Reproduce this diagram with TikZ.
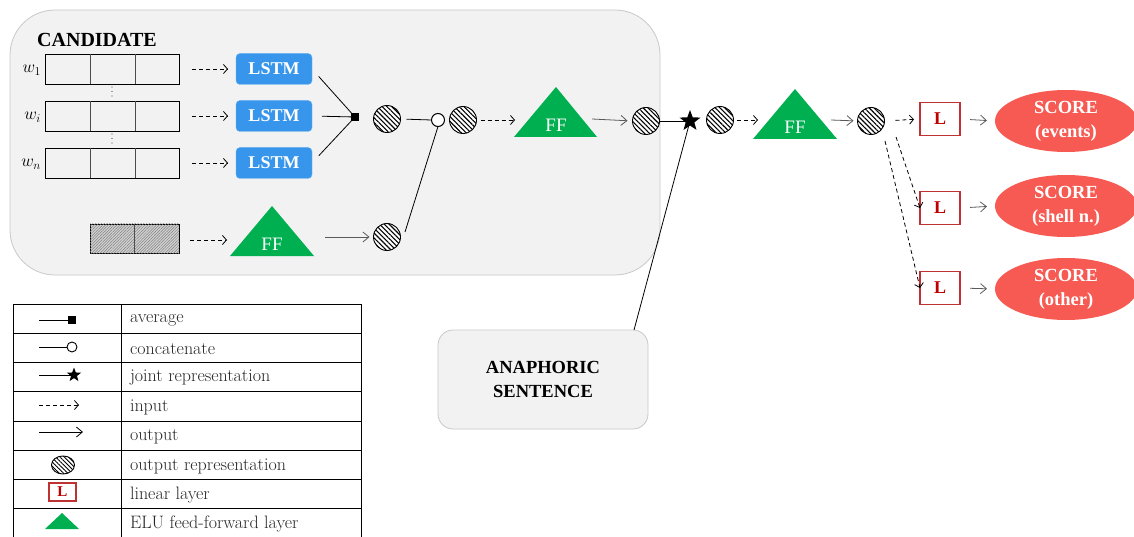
\documentclass[tikz,border=0pt]{standalone}
\usepackage{fontspec}
\setmainfont{Liberation Serif}
\newfontfamily\lmr{Latin Modern Roman}
\usetikzlibrary{arrows.meta,patterns.meta,shapes.geometric,calc}
\definecolor{bggray}{RGB}{242,242,242}
\definecolor{bgline}{RGB}{200,200,200}
\definecolor{lstmblue}{RGB}{55,150,235}
\definecolor{lstmline}{RGB}{100,175,240}
\definecolor{ffgreen}{RGB}{0,176,80}
\definecolor{lred}{RGB}{192,0,0}
\definecolor{lborder}{RGB}{190,50,50}
\definecolor{scorered}{RGB}{246,90,82}
\definecolor{outgray}{RGB}{90,90,90}
\begin{document}
\begin{tikzpicture}[x=1pt,y=-1pt,
  every node/.style={inner sep=0pt,outer sep=0pt},
  hatch/.style={circle,draw,line width=0.9pt,minimum size=27,fill=white,
    postaction={pattern={Lines[angle=-45,distance=3.4pt,line width=1.1pt]}}},
  wordbox/.style={draw,line width=0.8pt,minimum width=134,minimum height=30},
  lstm/.style={draw=lstmline,fill=lstmblue,rounded corners=4pt,minimum width=76,minimum height=31,
    text=white,font=\fontsize{18}{20}\selectfont\bfseries},
  fftext/.style={text=white,font=\fontsize{19}{21}\selectfont},
  lbox/.style={draw=lborder,line width=1.1pt,fill=white,minimum width=40,minimum height=33,
    text=lred,font=\fontsize{18}{20}\selectfont\bfseries},
  score/.style={ellipse,fill=scorered,minimum width=142,minimum height=62,text=white,align=center,
    font=\fontsize{18.5}{24}\selectfont\bfseries},
  avgsq/.style={fill=black,minimum size=8},
  conc/.style={circle,draw,line width=1pt,fill=white,minimum size=13},
  jstar/.style={star,star points=5,star point ratio=2.4,fill=black,minimum size=22},
  inarr/.style={line width=0.8pt,dash pattern=on 4pt off 3pt,-{Straight Barb[length=4pt,width=9pt]}},
  outarr/.style={draw=outgray,line width=0.8pt,-{Straight Barb[length=6pt,width=10pt]}},
  plain/.style={line width=0.8pt},
  legtext/.style={anchor=west,text=black!85,font=\lmr\fontsize{18}{20}\selectfont},
]
\useasboundingbox (0,0) rectangle (1134,537);

% candidate background
\draw[fill=bggray,draw=bgline,line width=0.8pt,rounded corners=45pt] (10,10) rectangle (660,275);
\node[font=\fontsize{20}{22}\selectfont\bfseries] (cand) at (97,40) {CANDIDATE};

% word rows
\foreach \k/\y/\lab in {1/69/{w_1},2/116/{w_i},3/163/{w_n}}{
  \node[wordbox] (w\k) at (112,\y) {};
  \draw[line width=0.7pt,draw=black!70] ($(w\k.north west)+(45,0)$) -- ($(w\k.south west)+(45,0)$);
  \draw[line width=0.7pt,draw=black!70] ($(w\k.north west)+(90,0)$) -- ($(w\k.south west)+(90,0)$);
  \node[anchor=east,font=\fontsize{18}{20}\selectfont] (wl\k) at ($(w\k.west)+(-4,1)$) {$\lab$};
  \node[lstm] (l\k) at (274,\y) {LSTM};
  \draw[inarr,shorten <=13pt,shorten >=8pt] (w\k.east) -- (l\k.west);
}
\foreach \y in {87,91.5,96,134,138.5,143}{\fill[black!70] (112,\y) circle (0.6pt);}

% average
\node[avgsq] (avg) at (355,117) {};
\foreach \k in {1,2,3}{\draw[plain,shorten <=10pt] (l\k.east) -- (avg);}

\node[hatch] (h1) at (387,119) {};
\node[conc] (cc) at (438,120) {};
\node[hatch] (h2) at (463,120) {};
\draw[plain,shorten <=6pt] (h1.east) -- (cc.west);

% FF1
\fill[ffgreen] (514,137) -- (556,87) -- (597,137) -- cycle;
\node[fftext] (ff1) at (556,125) {FF};
\coordinate (ff1in) at (515,120);
\coordinate (ff1out) at (592,119);
\draw[inarr,shorten <=4pt] (h2.east) -- (ff1in);
\node[hatch] (h3) at (646,121) {};
\draw[outarr,shorten >=5pt] (ff1out) -- (h3.west);

% joint
\node[jstar] (star) at (690,121) {};
\draw[plain] (h3.east) -- (star.center);

% lower branch
\node[draw,line width=0.8pt,minimum width=89,minimum height=29,fill=gray!35,
  postaction={pattern={Lines[angle=45,distance=2pt,line width=0.5pt]},pattern color=gray}] (gb) at (134.5,238.5) {};
\draw[line width=0.7pt,draw=black!70] (gb.north) -- (gb.south);
\fill[ffgreen] (230,256) -- (272,206) -- (314,256) -- cycle;
\node[fftext] (ff0) at (272,244) {FF};
\coordinate (ff0in) at (227,240);
\coordinate (ff0out) at (325,237);
\draw[inarr,shorten <=11pt] ($(gb.east)+(0,1.5)$) -- (ff0in);
\node[hatch] (h0) at (387,237) {};
\draw[outarr,shorten >=4pt] (ff0out) -- (h0.west);
\coordinate (h0e) at (405,232);
\draw[plain] (h0e) -- (cc.south);

% anaphoric
\node[draw=bgline,fill=bggray,line width=0.8pt,rounded corners=15pt,minimum width=210,minimum height=99,
  align=center,font=\fontsize{18.5}{24}\selectfont\bfseries] (ana) at (543,379.5) {ANAPHORIC\\SENTENCE};
\draw[plain] (star.center) -- ($(ana.north east)+(-14,0)$);

% second FF
\node[hatch] (h4) at (720,120) {};
\fill[ffgreen] (753,139) -- (795,89) -- (837,139) -- cycle;
\node[fftext] (ff2) at (795,127) {FF};
\coordinate (ff2in) at (758,120);
\coordinate (ff2out) at (831,120);
\draw[inarr,shorten <=3pt] (h4.east) -- (ff2in);
\node[hatch] (h5) at (871,121) {};
\draw[outarr,shorten >=4pt] (ff2out) -- (h5.west);

% outputs
\node[lbox] (L1) at (940,119) {L};
\node[lbox] (L2) at (940,208) {L};
\node[lbox] (L3) at (940,288) {L};
\node[score] (s1) at (1066,121) {SCORE\\(events)};
\node[score] (s2) at (1066,206) {SCORE\\(shell n.)};
\node[score] (s3) at (1066,289) {SCORE\\(other)};
\coordinate (h5a) at (896,137);
\coordinate (h5b) at (885,141);
\draw[inarr,shorten <=11pt,shorten >=6pt] (h5.east) -- (L1.west);
\draw[inarr] (h5a) -- (L2.west);
\draw[inarr] (h5b) -- (L3.west);
\foreach \k in {1,2,3}{\draw[outarr,shorten <=10pt,shorten >=8pt] (L\k.east) -- (s\k.west);}

% legend
\draw[line width=0.9pt] (13,537) -- (13,304) -- (361,304) -- (361,537);
\draw[line width=0.9pt] (121,304) -- (121,537);
\foreach \y in {333,362,391,421,450,479,508}{\draw[line width=0.9pt] (13,\y) -- (361,\y);}
\node[legtext] (t1) at (130,320) {average};
\node[legtext] (t2) at (130,349) {concatenate};
\node[legtext] (t3) at (130,378) {joint representation};
\node[legtext] (t4) at (130,407.5) {input};
\node[legtext] (t5) at (130,437) {output};
\node[legtext] (t6) at (130,466) {output representation};
\node[legtext] (t7) at (130,495) {linear layer};
\node[legtext] (t8) at (130,524) {ELU feed-forward layer};
% legend symbols
\node[avgsq] (g1) at (72,320) {};
\draw[plain] (39,320) -- (g1);
\node[conc,minimum size=10,line width=0.9pt] (g2) at (72,347) {};
\draw[plain] (39,347) -- (g2);
\node[jstar,minimum size=15] (g3) at (74,375) {};
\draw[plain] (39,375) -- (g3.center);
\coordinate (g4a) at (39,405);
\coordinate (g4b) at (79,405);
\draw[inarr] (g4a) -- (g4b);
\coordinate (g5a) at (39,432);
\coordinate (g5b) at (83,432);
\draw[outarr,draw=black] (g5a) -- (g5b);
\node[ellipse,draw,line width=0.9pt,minimum width=23,minimum height=18,fill=white,
  postaction={pattern={Lines[angle=-45,distance=3pt,line width=1pt]}}] (g6) at (63,465) {};
\node[lbox,minimum width=27,minimum height=18,font=\fontsize{15}{16}\selectfont\bfseries] (g7) at (62.5,492) {L};
\fill[ffgreen] (45,529) -- (62,513) -- (79,529) -- cycle;
\coordinate (g8) at (62,523);
\end{tikzpicture}
\end{document}
